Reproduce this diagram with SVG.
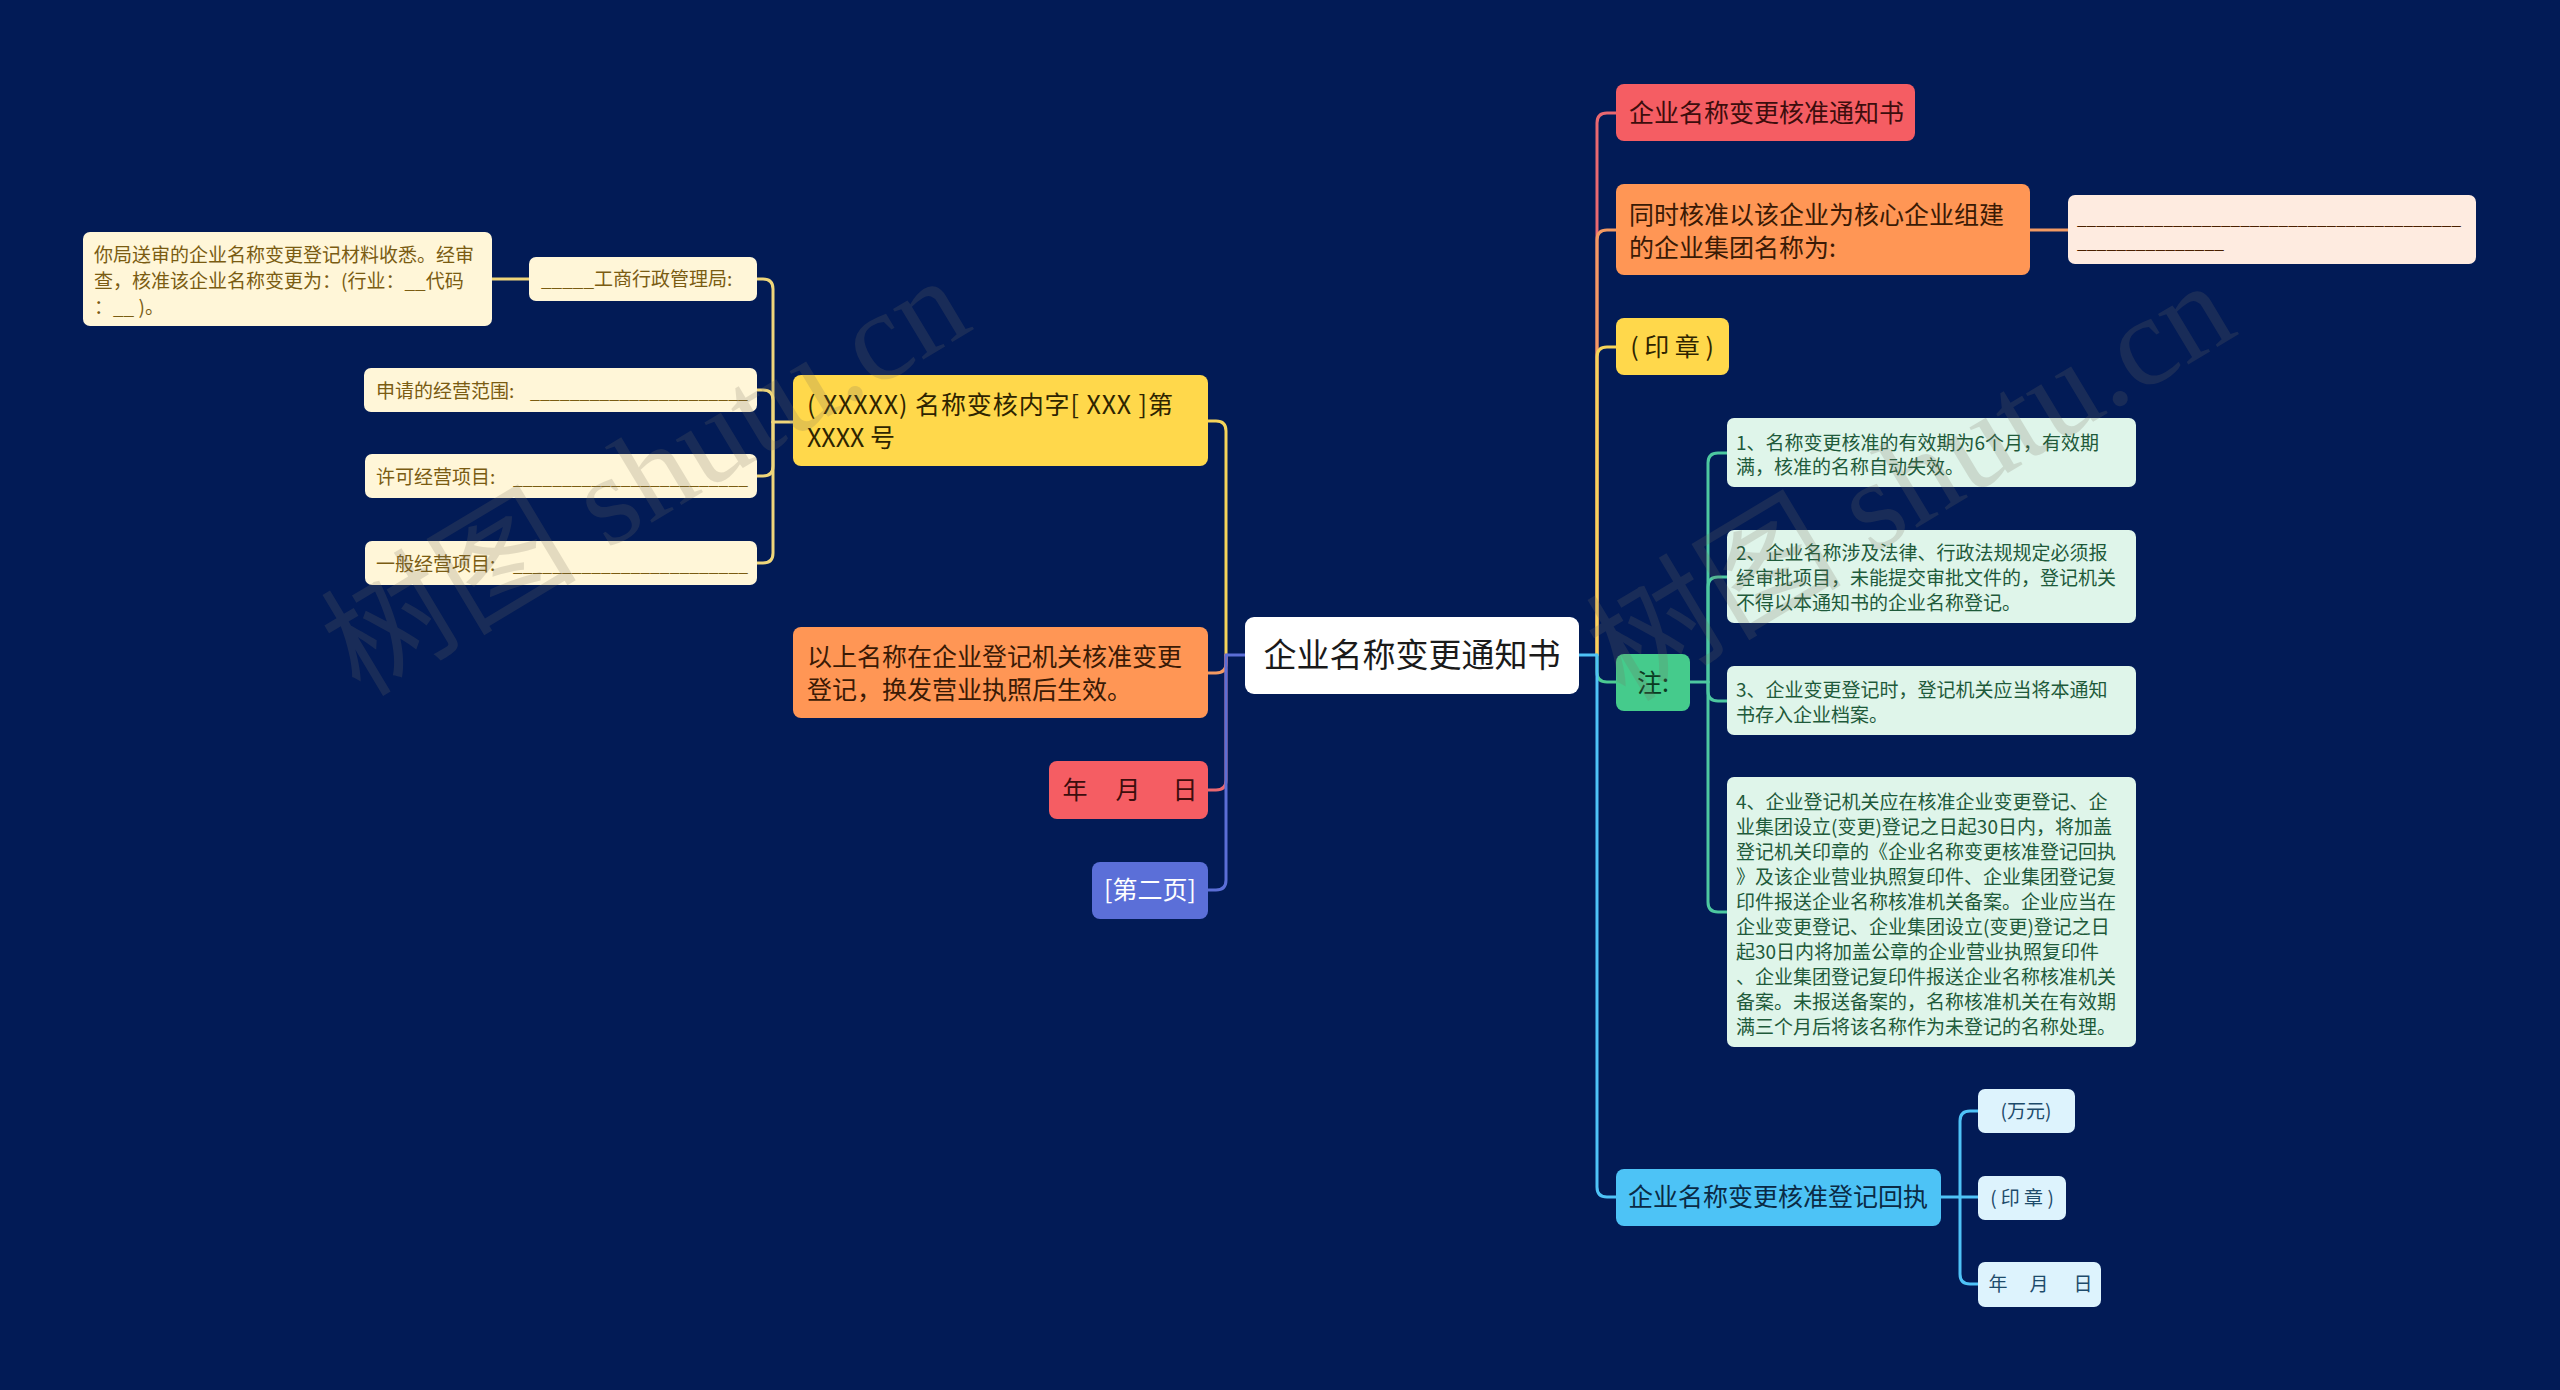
<svg xmlns="http://www.w3.org/2000/svg" width="2560" height="1390" viewBox="0 0 2560 1390">
<style>
text{font-family:"Noto Sans CJK SC","Noto Sans",sans-serif;}
.l{fill:none;stroke-width:3;stroke-linecap:round;stroke-linejoin:round;}
.cy{stroke:#F5D45A}.co{stroke:#F39A62}.cr{stroke:#EA6870}.cb{stroke:#5B6ED6}.cg{stroke:#4CCB92}.cl{stroke:#4FC3F7}.cp{stroke:#EFD67A}.cn{stroke:#4DC8A0}
.f33{font-size:33px}.f25{font-size:25px}.f19{font-size:19px}
.cream rect{fill:#FFF6D8}.cream text{fill:#7A5C12;font-size:19px}
.mint rect{fill:#DFF5EA}.mint text{fill:#1E5A3A;font-size:19px}
.sky rect{fill:#DDF3FD}.sky text{fill:#1D4B6B;font-size:19px}
.wm{font-family:"Liberation Serif","Noto Sans CJK SC",serif;font-size:128px;fill:#787060;opacity:.2}
</style>
<rect width="2560" height="1390" fill="#021b56"/>

<g id="connectors">
  <!-- left of root -->
  <path class="l cy" d="M1226,655 V431 Q1226,421 1216,421 H1208"/>
  <path class="l co" d="M1226,655 V663 Q1226,673 1216,673 H1208"/>
  <path class="l cr" d="M1226,655 V780 Q1226,790 1216,790 H1208"/>
  <path class="l cb" d="M1245,655 H1226 V880 Q1226,890 1216,890 H1208"/>
  <!-- yellow node children -->
  <path class="l cp" d="M793,422 H773"/>
  <path class="l cp" d="M773,422 V289 Q773,279 763,279 H757"/>
  <path class="l cp" d="M773,422 V400 Q773,390 763,390 H757"/>
  <path class="l cp" d="M773,422 V466 Q773,476 763,476 H757"/>
  <path class="l cp" d="M773,422 V553 Q773,563 763,563 H757"/>
  <path class="l cp" d="M529,279 H492"/>
  <!-- right of root -->
  <path class="l cr" d="M1597,655 V123 Q1597,113 1607,113 H1616"/>
  <path class="l co" d="M1597,655 V240 Q1597,230 1607,230 H1616"/>
  <path class="l cy" d="M1597,655 V357 Q1597,347 1607,347 H1616"/>
  <path class="l cg" d="M1597,655 V672 Q1597,682 1607,682 H1616"/>
  <path class="l cl" d="M1579,655 H1597 V1187 Q1597,1197 1607,1197 H1616"/>
  <path class="l co" d="M2030,230 H2068"/>
  <!-- notes -->
  <path class="l cn" d="M1690,682 H1708"/>
  <path class="l cn" d="M1708,682 V463 Q1708,453 1718,453 H1727"/>
  <path class="l cn" d="M1708,682 V587 Q1708,577 1718,577 H1727"/>
  <path class="l cn" d="M1708,682 V691 Q1708,701 1718,701 H1727"/>
  <path class="l cn" d="M1708,682 V902 Q1708,912 1718,912 H1727"/>
  <!-- receipt children -->
  <path class="l cl" d="M1941,1197 H1960"/>
  <path class="l cl" d="M1960,1197 V1121 Q1960,1111 1970,1111 H1978"/>
  <path class="l cl" d="M1960,1197 H1978"/>
  <path class="l cl" d="M1960,1197 V1274 Q1960,1284 1970,1284 H1978"/>
</g>

<g id="root">
  <rect x="1245" y="617" width="334" height="77" rx="9" fill="#FFFFFF"/>
  <text class="f33" x="1412" y="667" text-anchor="middle" fill="#1a1a1a">企业名称变更通知书</text>
</g>

<!-- left side -->
<g id="n-wenhao">
  <rect x="793" y="375" width="415" height="91" rx="8" fill="#FFD84B"/>
  <text class="f25" fill="#2e2400"><tspan x="807" y="414" textLength="366" lengthAdjust="spacing">( XXXXX) 名称变核内字[ XXX ]第</tspan><tspan x="807" y="447">XXXX 号</tspan></text>
</g>
<g id="n-gongshang" class="cream">
  <rect x="529" y="257" width="228" height="44" rx="7"/>
  <text x="541" y="286">_____工商行政管理局:</text>
</g>
<g id="n-shenshen" class="cream">
  <rect x="83" y="232" width="409" height="94" rx="7"/>
  <text><tspan x="94" y="262">你局送审的企业名称变更登记材料收悉。经审</tspan><tspan x="94" y="288">查，核准该企业名称变更为：(行业：__代码</tspan><tspan x="94" y="314">：__ )。</tspan></text>
</g>
<g id="n-fanwei" class="cream">
  <rect x="364" y="368" width="393" height="44" rx="7"/>
  <text x="376" y="398">申请的经营范围: <tspan x="530" textLength="218" lengthAdjust="spacingAndGlyphs">______________________</tspan></text>
</g>
<g id="n-xuke" class="cream">
  <rect x="365" y="454" width="392" height="44" rx="7"/>
  <text x="376" y="484">许可经营项目: <tspan x="513" textLength="235" lengthAdjust="spacingAndGlyphs">________________________</tspan></text>
</g>
<g id="n-yiban" class="cream">
  <rect x="365" y="541" width="392" height="44" rx="7"/>
  <text x="376" y="571">一般经营项目: <tspan x="513" textLength="235" lengthAdjust="spacingAndGlyphs">________________________</tspan></text>
</g>
<g id="n-shengxiao">
  <rect x="793" y="627" width="415" height="91" rx="8" fill="#FF9655"/>
  <text class="f25" fill="#3a1a05"><tspan x="807" y="666">以上名称在企业登记机关核准变更</tspan><tspan x="807" y="699">登记，换发营业执照后生效。</tspan></text>
</g>
<g id="n-date-left">
  <rect x="1049" y="761" width="159" height="58" rx="8" fill="#F55D63"/>
  <text class="f25" y="799" fill="#3d0d0d" text-anchor="middle"><tspan x="1075">年</tspan><tspan x="1128">月</tspan><tspan x="1185">日</tspan></text>
</g>
<g id="n-page2">
  <rect x="1092" y="862" width="116" height="57" rx="8" fill="#5B6FD8"/>
  <text class="f25" x="1150" y="899" text-anchor="middle" fill="#FFFFFF">[第二页]</text>
</g>

<!-- right side -->
<g id="n-title">
  <rect x="1616" y="84" width="299" height="57" rx="8" fill="#F55D63"/>
  <text class="f25" x="1629" y="122" fill="#3d0d0d">企业名称变更核准通知书</text>
</g>
<g id="n-group">
  <rect x="1616" y="184" width="414" height="91" rx="8" fill="#FF9655"/>
  <text class="f25" fill="#3a1a05"><tspan x="1629" y="224">同时核准以该企业为核心企业组建</tspan><tspan x="1629" y="257">的企业集团名称为:</tspan></text>
</g>
<g id="n-group-blank">
  <rect x="2068" y="195" width="408" height="69" rx="7" fill="#FEEBE0"/>
  <text class="f19" fill="#4a2000"><tspan x="2077" y="224" textLength="384" lengthAdjust="spacingAndGlyphs">________________________________________</tspan><tspan x="2077" y="248" textLength="147" lengthAdjust="spacingAndGlyphs">_______________</tspan></text>
</g>
<g id="n-seal">
  <rect x="1616" y="318" width="113" height="57" rx="8" fill="#FFD84B"/>
  <text class="f25" x="1672" y="356" text-anchor="middle" fill="#2e2400" style="white-space:pre">( 印 章 )</text>
</g>
<g id="n-note">
  <rect x="1616" y="654" width="74" height="57" rx="8" fill="#45CB8C"/>
  <text class="f25" x="1653" y="692" text-anchor="middle" fill="#0b3a22">注:</text>
</g>
<g id="n-note1" class="mint">
  <rect x="1727" y="418" width="409" height="69" rx="7"/>
  <text><tspan x="1736" y="450">1、名称变更核准的有效期为6个月，有效期</tspan><tspan x="1736" y="474">满，核准的名称自动失效。</tspan></text>
</g>
<g id="n-note2" class="mint">
  <rect x="1727" y="530" width="409" height="93" rx="7"/>
  <text><tspan x="1736" y="560">2、企业名称涉及法律、行政法规规定必须报</tspan><tspan x="1736" y="585">经审批项目，未能提交审批文件的，登记机关</tspan><tspan x="1736" y="610">不得以本通知书的企业名称登记。</tspan></text>
</g>
<g id="n-note3" class="mint">
  <rect x="1727" y="666" width="409" height="69" rx="7"/>
  <text><tspan x="1736" y="697">3、企业变更登记时，登记机关应当将本通知</tspan><tspan x="1736" y="722">书存入企业档案。</tspan></text>
</g>
<g id="n-note4" class="mint">
  <rect x="1727" y="777" width="409" height="270" rx="7"/>
  <text><tspan x="1736" y="809">4、企业登记机关应在核准企业变更登记、企</tspan><tspan x="1736" y="834">业集团设立(变更)登记之日起30日内，将加盖</tspan><tspan x="1736" y="859">登记机关印章的《企业名称变更核准登记回执</tspan><tspan x="1736" y="884">》及该企业营业执照复印件、企业集团登记复</tspan><tspan x="1736" y="909">印件报送企业名称核准机关备案。企业应当在</tspan><tspan x="1736" y="934">企业变更登记、企业集团设立(变更)登记之日</tspan><tspan x="1736" y="959">起30日内将加盖公章的企业营业执照复印件</tspan><tspan x="1736" y="984">、企业集团登记复印件报送企业名称核准机关</tspan><tspan x="1736" y="1009">备案。未报送备案的，名称核准机关在有效期</tspan><tspan x="1736" y="1034">满三个月后将该名称作为未登记的名称处理。</tspan></text>
</g>
<g id="n-receipt">
  <rect x="1616" y="1169" width="325" height="57" rx="8" fill="#4DC3F6"/>
  <text class="f25" x="1628" y="1206" fill="#0a2a45">企业名称变更核准登记回执</text>
</g>
<g id="n-wanyuan" class="sky">
  <rect x="1978" y="1089" width="97" height="44" rx="7"/>
  <text x="2026" y="1118" text-anchor="middle">(万元)</text>
</g>
<g id="n-seal2" class="sky">
  <rect x="1978" y="1176" width="88" height="44" rx="7"/>
  <text x="2022" y="1205" text-anchor="middle" style="white-space:pre">( 印 章 )</text>
</g>
<g id="n-date-right" class="sky">
  <rect x="1978" y="1262" width="123" height="45" rx="7"/>
  <text y="1291" text-anchor="middle"><tspan x="1998">年</tspan><tspan x="2039">月</tspan><tspan x="2083">日</tspan></text>
</g>

<g id="watermark">
  <text class="wm" transform="translate(360,698) rotate(-31)">树图 shutu.cn</text>
  <text class="wm" transform="translate(1625,703) rotate(-31)">树图 shutu.cn</text>
</g>
</svg>
